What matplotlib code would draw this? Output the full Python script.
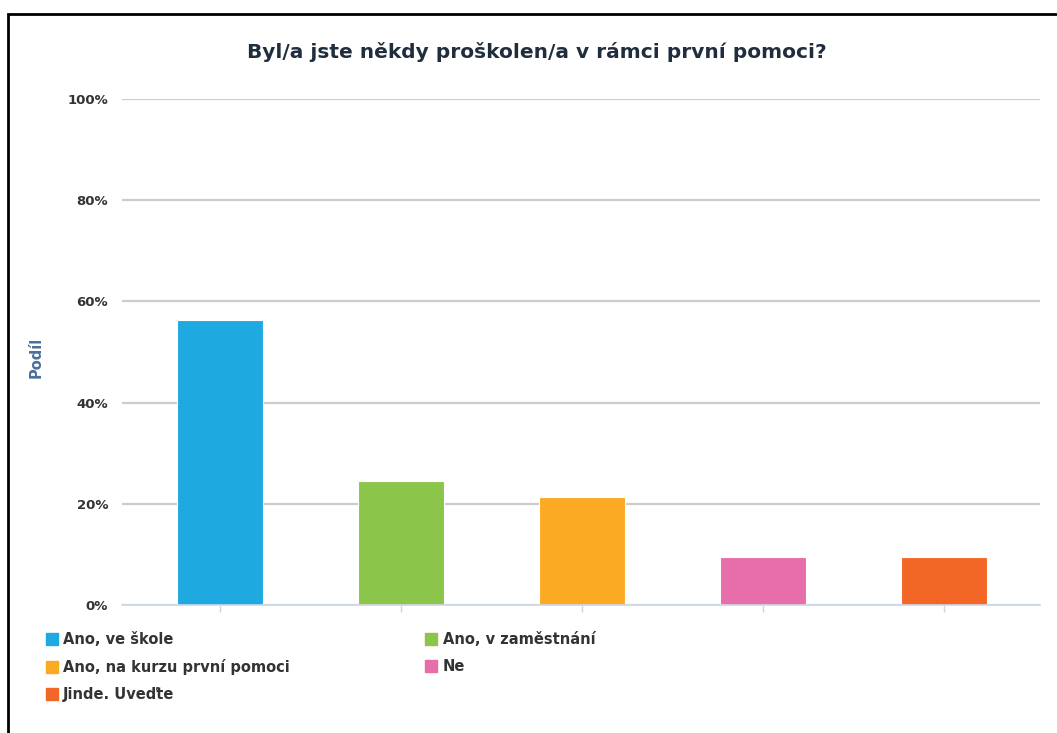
import matplotlib
matplotlib.use("Agg")
import matplotlib.pyplot as plt
from matplotlib.lines import Line2D
from matplotlib.patches import Rectangle
from matplotlib.ticker import FuncFormatter

plt.rcParams['font.family'] = ['DejaVu Sans']

# data
categories = ["Ano, ve škole", "Ano, v zaměstnání", "Ano, na kurzu první pomoci",
              "Ne", "Jinde. Uveďte"]
shares = [56.4, 24.6, 21.3, 9.4, 9.4]
colors = ["#1ea9e0", "#8bc54a", "#fbaa24", "#e76eaa", "#f26725"]
yticks = [0, 20, 40, 60, 80, 100]

W, H = 1057, 733
fig = plt.figure(figsize=(W / 100, H / 100), dpi=100)

# black frame around the page (top and left visible)
fig.patches.append(Rectangle((8 / W, -0.05), 1.2, 1 - 14 / H + 0.05,
                             transform=fig.transFigure, fill=False,
                             edgecolor="black", linewidth=2))

# axes box in pixels
left, right, top, bottom = 122, 1040, 99, 605
ax = fig.add_axes([left / W, 1 - bottom / H, (right - left) / W, (bottom - top) / H])

x = list(range(len(categories)))
ax.bar(x, shares, width=0.475, color=colors, edgecolor="white", linewidth=0.8, zorder=3)

ax.set_xlim(-0.541, 4.53)
ax.set_ylim(0, 100)
ax.set_yticks(yticks)
ax.yaxis.set_major_formatter(FuncFormatter(lambda v, p: f"{int(v)}%"))
ax.grid(axis="y", color="#cccccc", linewidth=1.6, zorder=0)
ax.set_xticks(x)
ax.set_xticklabels([])
ax.tick_params(axis="x", length=5, width=1, color="#ccd6eb")
ax.tick_params(axis="y", length=0, pad=10, labelsize=9.5, labelcolor="#333333")
for lab in ax.get_yticklabels():
    lab.set_fontweight("bold")

for s in ["top", "right", "left"]:
    ax.spines[s].set_visible(False)
ax.spines["bottom"].set_color("#ccd6eb")
ax.spines["bottom"].set_linewidth(1.2)
ax.spines["bottom"].set_zorder(4)

ax.set_ylabel("Podíl", color="#4a6f9a", fontsize=10.5, fontweight="bold")
ax.yaxis.set_label_coords(-(left - 44) / (right - left), 0.49)

fig.text(537 / W, 1 - 52 / H, "Byl/a jste někdy proškolen/a v rámci první pomoci?",
         ha="center", va="center", fontsize=14.5, fontweight="bold", color="#1f2d3d")

handles = [Line2D([], [], marker="s", linestyle="none", markersize=9,
                  markerfacecolor=c, markeredgecolor=c) for c in colors]
order = [0, 2, 4, 1, 3]
leg = fig.legend([handles[i] for i in order], [categories[i] for i in order],
                 ncol=2, loc="upper left", bbox_to_anchor=(37 / W, 1 - 625 / H),
                 frameon=False, fontsize=10.5, handletextpad=0.3, handlelength=1.0,
                 columnspacing=9.2, labelspacing=0.8, borderpad=0)
for t in leg.get_texts():
    t.set_fontweight("bold")
    t.set_color("#333333")

fig.savefig("out.png", dpi=100)
